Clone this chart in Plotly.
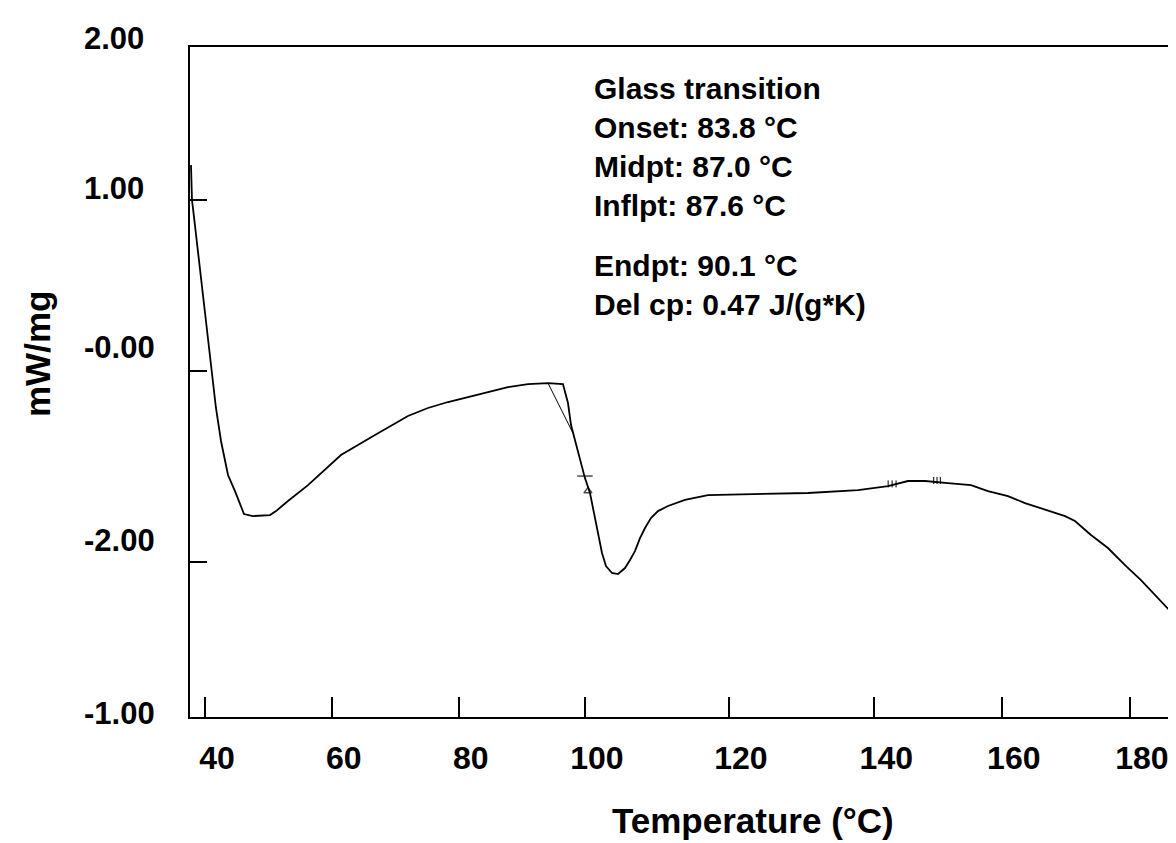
import plotly.graph_objects as go

# ---- data ----
temp_c = [37.88, 38.03, 38.18, 38.94, 39.85, 40.76, 41.66, 42.42, 43.48, 44.54,
          45.30, 45.90, 47.26, 49.84, 50.75, 52.56, 55.59, 60.58, 65.73, 70.72,
          73.75, 76.78, 79.81, 82.83, 85.86, 88.89, 91.91, 94.18, 94.94, 95.40,
          96.15, 96.76, 97.51, 98.27, 98.88, 99.48, 100.09, 100.69, 101.60, 102.51,
          103.57, 104.33, 105.08, 105.84, 106.60, 107.50, 108.56, 110.08, 112.65, 116.13,
          123.70, 131.27, 138.84, 143.38, 146.40, 148.98, 152.46, 155.94, 158.51, 161.54,
          164.11, 166.53, 170.17, 171.68, 174.10, 176.67, 179.25, 181.67, 184.24, 186.81,
          187.72, 188.18]
heat_flow = [1.205, 1.000, 0.953, 0.702, 0.392, 0.088, -0.216, -0.409, -0.608, -0.702,
             -0.784, -0.836, -0.848, -0.842, -0.819, -0.760, -0.667, -0.491, -0.374, -0.263,
             -0.216, -0.181, -0.152, -0.123, -0.094, -0.076, -0.070, -0.076, -0.187, -0.316,
             -0.421, -0.509, -0.626, -0.713, -0.830, -0.959, -1.064, -1.140, -1.181, -1.187,
             -1.152, -1.105, -1.053, -0.977, -0.918, -0.860, -0.819, -0.789, -0.754, -0.725,
             -0.719, -0.713, -0.696, -0.673, -0.643, -0.643, -0.655, -0.667, -0.702, -0.731,
             -0.772, -0.801, -0.848, -0.877, -0.959, -1.035, -1.135, -1.222, -1.327, -1.433,
             -1.520, -1.560]

tangent_temp = [91.91, 95.70]
tangent_flow = [-0.070, -0.363]

tg_mark_temp = [97.51, 97.96]
tg_mark_flow = [-0.614, -0.702]

hash_temp = [143.4, 144.0, 144.6, 150.3, 150.8, 151.3]
hash_flow = [-0.660, -0.660, -0.660, -0.640, -0.640, -0.640]

x_tick_vals = [40, 59.2, 78.4, 97.5, 119.3, 141.3, 160.6, 180.0]
x_tick_text = ["40", "60", "80", "100", "120", "140", "160", "180"]

y_tick_vals = [1.0, 0.0, -1.117]
y_label_text = ["2.00", "1.00", "-0.00", "-2.00", "-1.00"]
y_label_pos = [1.942, 1.070, 0.135, -0.988, -2.0]

info_lines_1 = ["Glass transition", "Onset: 83.8 \u00b0C", "Midpt: 87.0 \u00b0C", "Inflpt: 87.6 \u00b0C"]
info_lines_2 = ["Endpt: 90.1 \u00b0C", "Del cp: 0.47 J/(g*K)"]

X_RANGE = [37.73, 188.18]
Y_RANGE = [-2.023, 1.895]
FONT = "Liberation Sans, Arial, Helvetica, sans-serif"


def y_to_paper(v):
    return (v - Y_RANGE[0]) / (Y_RANGE[1] - Y_RANGE[0])


fig = go.Figure()
fig.add_trace(go.Scatter(x=temp_c, y=heat_flow, mode="lines",
                         line=dict(color="black", width=1.8), showlegend=False))
fig.add_trace(go.Scatter(x=tangent_temp, y=tangent_flow, mode="lines",
                         line=dict(color="black", width=1), showlegend=False))
fig.add_trace(go.Scatter(x=tg_mark_temp, y=tg_mark_flow, mode="markers",
                         marker=dict(symbol=["line-ew", "triangle-up-open"], size=[11, 7],
                                     color="black", line=dict(color="black", width=1.5)),
                         showlegend=False))
fig.add_trace(go.Scatter(x=hash_temp, y=hash_flow, mode="markers",
                         marker=dict(symbol="line-ns", size=5, color="black",
                                     line=dict(color="black", width=1)),
                         showlegend=False))

fig.update_layout(
    width=1176, height=843,
    margin=dict(l=182, r=0, t=39, b=134),
    paper_bgcolor="white", plot_bgcolor="white",
    font=dict(family=FONT, color="black"),
    xaxis=dict(range=X_RANGE, showgrid=False, zeroline=False,
               showline=True, linecolor="black", linewidth=2, mirror=True,
               ticks="inside", ticklen=20, tickwidth=2, tickcolor="black",
               tickvals=x_tick_vals, ticktext=x_tick_text,
               tickfont=dict(family=FONT, size=32, weight=700, color="black"),
               ticklabelshift=12, ticklabelstandoff=12),
    yaxis=dict(range=Y_RANGE, showgrid=False, zeroline=False,
               showline=True, linecolor="black", linewidth=2, mirror=False,
               ticks="inside", ticklen=17, tickwidth=2, tickcolor="black",
               tickvals=y_tick_vals, showticklabels=False),
)

for txt, pos in zip(y_label_text, y_label_pos):
    fig.add_annotation(x=-0.1087, xref="paper", y=y_to_paper(pos), yref="paper", text=txt,
                       showarrow=False, xanchor="left", yanchor="middle",
                       font=dict(family=FONT, size=31, weight=700, color="black"))

fig.add_annotation(x=0.404, xref="paper", y=1.0 - (139 - 39) / 670, yref="paper",
                   text="<br>".join(info_lines_1), align="left", showarrow=False,
                   xanchor="left", yanchor="middle",
                   font=dict(family=FONT, size=30, weight=700, color="black"))
fig.add_annotation(x=0.404, xref="paper", y=1.0 - (277 - 39) / 670, yref="paper",
                   text="<br>".join(info_lines_2), align="left", showarrow=False,
                   xanchor="left", yanchor="middle",
                   font=dict(family=FONT, size=30, weight=700, color="black"))

fig.add_annotation(x=0.566, xref="paper", y=(709 - 812) / 670, yref="paper",
                   text="Temperature (\u00b0C)", showarrow=False,
                   xanchor="center", yanchor="middle",
                   font=dict(family=FONT, size=35, weight=700, color="black"))
fig.add_annotation(x=(29 - 182) / 994, xref="paper", y=(709 - 346) / 670, yref="paper",
                   text="mW/mg", textangle=-90, showarrow=False,
                   xanchor="center", yanchor="middle",
                   font=dict(family=FONT, size=35, weight=700, color="black"))

fig.write_html("out.html")
